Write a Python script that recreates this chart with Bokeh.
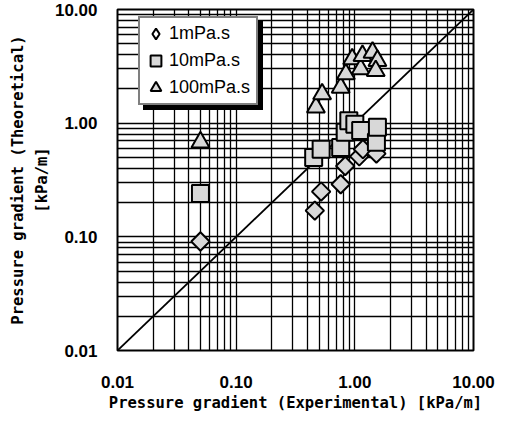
import math
from bokeh.plotting import figure
from bokeh.models import FixedTicker, Legend, LegendItem
from bokeh.embed import file_html
from bokeh.resources import INLINE

# ---- data ----
exp_1 = [0.05, 0.46, 0.52, 0.76, 0.83, 1.09, 1.17, 1.52]
theo_1 = [0.091, 0.17, 0.25, 0.29, 0.42, 0.51, 0.59, 0.54]

exp_10 = [0.05, 0.45, 0.52, 0.76, 0.83, 0.89, 1.0, 1.12, 1.52, 1.55]
theo_10 = [0.24, 0.50, 0.59, 0.61, 0.83, 1.05, 0.98, 0.86, 0.68, 0.92]

exp_100 = [0.05, 0.47, 0.53, 0.76, 0.84, 0.95, 1.12, 1.16, 1.41, 1.55, 1.50]
theo_100 = [0.68, 1.38, 1.80, 2.06, 2.70, 3.66, 2.99, 3.92, 4.19, 3.54, 2.89]

series_names = ["1mPa.s", "10mPa.s", "100mPa.s"]

parity = [0.01, 10]
major_ticks = [0.01, 0.1, 1, 10]
tick_labels = ["0.01", "0.10", "1.00", "10.00"]
minor_ticks = [m * d for d in [0.01, 0.1, 1] for m in range(2, 10)]

p = figure(width=497, height=416, x_axis_type="log", y_axis_type="log",
           x_range=(0.01, 10), y_range=(0.01, 10),
           output_backend="svg", toolbar_location=None,
           min_border_left=117, min_border_right=24,
           min_border_top=9, min_border_bottom=66)

p.background_fill_color = "white"
p.border_fill_color = "white"
p.outline_line_color = "black"
p.outline_line_width = 2

tx = FixedTicker(ticks=major_ticks, minor_ticks=minor_ticks)
ty = FixedTicker(ticks=major_ticks, minor_ticks=minor_ticks)
p.xaxis.ticker = tx
p.yaxis.ticker = ty
p.xgrid.ticker = tx
p.ygrid.ticker = ty
overrides = {t: s for t, s in zip(major_ticks, tick_labels)}
for ax in (p.xaxis, p.yaxis):
    ax.major_label_overrides = overrides
    ax.major_tick_line_color = None
    ax.minor_tick_line_color = None
    ax.major_tick_out = 0
    ax.major_tick_in = 0
    ax.minor_tick_out = 0
    ax.minor_tick_in = 0
    ax.axis_line_color = None
    ax.major_label_text_font = "Liberation Sans"
    ax.major_label_text_font_size = "17px"
    ax.major_label_text_font_style = "bold"
    ax.major_label_text_color = "black"
    ax.axis_label_text_font = "DejaVu Sans Mono"
    ax.axis_label_text_font_size = "15.5px"
    ax.axis_label_text_font_style = "bold"
    ax.axis_label_text_color = "black"
    ax.axis_label_text_line_height = 1.35

p.xaxis.major_label_standoff = 25
p.yaxis.major_label_standoff = 20
p.xaxis.axis_label = "Pressure gradient (Experimental) [kPa/m]"
p.yaxis.axis_label = "Pressure gradient (Theoretical)\n[kPa/m]"
p.xaxis.axis_label_standoff = 3
p.yaxis.axis_label_standoff = 1

for g in (p.xgrid, p.ygrid):
    g.grid_line_color = "black"
    g.grid_line_width = 1.3
    g.minor_grid_line_color = "black"
    g.minor_grid_line_width = 1.3

p.line(parity, parity, line_color="black", line_width=1.8)

fill = "#d8d8d8"
r1 = p.scatter(exp_1, theo_1, marker="square", angle=math.pi / 4, size=13,
               fill_color=fill, line_color="black", line_width=2)
r10 = p.scatter(exp_10, theo_10, marker="square", size=17,
                fill_color=fill, line_color="black", line_width=2)
r100 = p.scatter(exp_100, theo_100, marker="triangle", size=18,
                 fill_color=fill, line_color="black", line_width=2)

# legend key for the diamond series (legends ignore marker rotation);
# the renderer itself is hidden, only its legend glyph is drawn
r1_key = p.scatter(exp_1, theo_1, marker="diamond", size=13,
                   fill_color="white", line_color="black", line_width=2,
                   visible=False)

legend_renderers = [r1_key, r10, r100]
legend_style = dict(padding=2, spacing=0,
                    glyph_width=27, glyph_height=27, label_height=27,
                    label_width=85, label_standoff=0,
                    label_text_font="Liberation Sans", label_text_font_size="18px",
                    border_line_color="black", border_line_width=2,
                    background_fill_alpha=1)

# drop shadow behind the legend box (blank labels, fully covered glyphs)
shadow = Legend(items=[LegendItem(label=" ", renderers=[r]) for r in legend_renderers],
                location=(26, 240), label_text_color="black",
                background_fill_color="black", **legend_style)
p.add_layout(shadow)

legend = Legend(items=[LegendItem(label=n, renderers=[r])
                       for n, r in zip(series_names, legend_renderers)],
                location=(21, 245), label_text_color="black",
                background_fill_color="white", **legend_style)
p.add_layout(legend)

open("out.html", "w").write(file_html(p, INLINE))
